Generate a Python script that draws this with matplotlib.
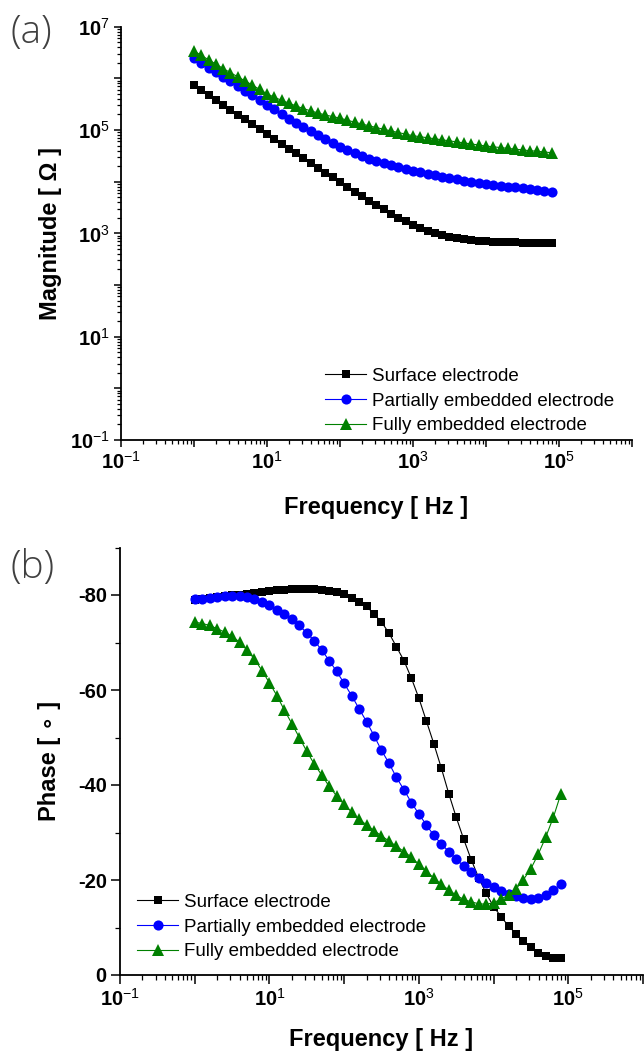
import math
import matplotlib
matplotlib.use("Agg")
import matplotlib.pyplot as plt
from matplotlib.ticker import FixedLocator, LogLocator, MultipleLocator, FuncFormatter, NullFormatter

plt.rcParams['font.family'] = ['Liberation Sans', 'DejaVu Sans']
plt.rcParams['mathtext.fontset'] = 'custom'
plt.rcParams['mathtext.rm'] = 'Liberation Sans'
plt.rcParams['mathtext.bf'] = 'Liberation Sans:bold'
plt.rcParams['axes.unicode_minus'] = False

# frequency sweep, 10 points per decade
freq = [1.0, 1.26, 1.58, 2.0, 2.51, 3.16, 3.98, 5.01, 6.31, 7.94,
        10.0, 12.6, 15.8, 20.0, 25.1, 31.6, 39.8, 50.1, 63.1, 79.4,
        100, 126, 158, 200, 251, 316, 398, 501, 631, 794,
        1000, 1259, 1585, 1995, 2512, 3162, 3981, 5012, 6310, 7943,
        10000, 12589, 15849, 19953, 25119, 31623, 39811, 50119, 63096, 79433]

labels = ['Surface electrode', 'Partially embedded electrode', 'Fully embedded electrode']

# log10 of |Z| in ohm
mag_surface = [5.87, 5.775, 5.68, 5.585, 5.49, 5.395, 5.30, 5.205, 5.11, 5.015,
               4.92, 4.827, 4.734, 4.641, 4.548, 4.455, 4.362, 4.269, 4.176, 4.083,
               3.99, 3.90, 3.81, 3.72, 3.632, 3.546, 3.462, 3.382, 3.305, 3.232,
               3.164, 3.10, 3.045, 2.998, 2.96, 2.93, 2.905, 2.885, 2.87, 2.858,
               2.848, 2.84, 2.834, 2.829, 2.825, 2.822, 2.82, 2.818, 2.816, 2.815]
mag_partial = [6.39, 6.30, 6.21, 6.12, 6.03, 5.94, 5.85, 5.76, 5.67, 5.58,
               5.49, 5.40, 5.31, 5.22, 5.14, 5.06, 4.98, 4.90, 4.82, 4.745,
               4.675, 4.61, 4.55, 4.495, 4.445, 4.40, 4.355, 4.315, 4.28, 4.245,
               4.21, 4.18, 4.15, 4.12, 4.095, 4.07, 4.045, 4.02, 4.0, 3.98,
               3.96, 3.94, 3.925, 3.905, 3.89, 3.87, 3.855, 3.84, 3.825, 3.81]
mag_full = [6.53, 6.445, 6.36, 6.275, 6.19, 6.11, 6.03, 5.95, 5.87, 5.785,
            5.70, 5.635, 5.575, 5.52, 5.465, 5.415, 5.37, 5.33, 5.29, 5.26,
            5.23, 5.19, 5.152, 5.116, 5.081, 5.047, 5.014, 4.982, 4.951, 4.92,
            4.89, 4.87, 4.85, 4.83, 4.81, 4.79, 4.77, 4.75, 4.73, 4.71,
            4.69, 4.675, 4.66, 4.645, 4.63, 4.615, 4.60, 4.59, 4.575, 4.56]

# phase in degrees
ph_surface = [-78.9, -79.1, -79.3, -79.5, -79.7, -79.9, -80.1, -80.3, -80.5, -80.7,
              -80.9, -81.0, -81.1, -81.2, -81.3, -81.3, -81.2, -81.1, -80.9, -80.6,
              -80.2, -79.4, -78.6, -77.6, -76.0, -74.3, -72.0, -69.1, -66.2, -62.5,
              -58.3, -53.5, -48.7, -43.6, -38.2, -33.2, -28.6, -24.3, -20.5, -17.2,
              -14.4, -12.3, -10.3, -8.7, -7.1, -5.8, -4.7, -4.0, -3.6, -3.5]
ph_partial = [-79.1, -79.2, -79.4, -79.5, -79.7, -79.7, -79.7, -79.6, -79.2, -78.5,
              -77.8, -76.8, -76.0, -74.9, -73.6, -72.0, -70.4, -68.4, -66.2, -63.9,
              -61.4, -58.8, -56.1, -53.3, -50.4, -47.3, -44.6, -41.6, -39.0, -36.3,
              -33.9, -31.6, -29.4, -27.6, -26.0, -24.4, -22.9, -21.7, -20.4, -19.3,
              -18.5, -17.7, -17.0, -16.6, -16.2, -16.1, -16.2, -16.8, -17.9, -19.1]
ph_full = [-74.3, -74.0, -73.6, -72.9, -72.2, -71.3, -70.1, -68.4, -66.5, -64.1,
           -61.5, -58.8, -55.8, -52.9, -50.0, -47.1, -44.4, -42.1, -39.7, -37.7,
           -35.9, -34.3, -32.8, -31.6, -30.4, -29.3, -28.2, -27.1, -26.0, -24.8,
           -23.3, -21.9, -20.4, -19.1, -17.9, -16.8, -15.9, -15.4, -15.0, -14.9,
           -15.2, -16.0, -16.8, -18.1, -20.1, -22.4, -25.5, -29.1, -33.2, -38.1]

colors = ['#000000', '#0000ff', '#008000']
markers = ['s', 'o', '^']
msizes = [6.3, 7.3, 8.0]

fig = plt.figure(figsize=(6.44, 10.55), dpi=100)
ax1 = fig.add_axes([121 / 644, 1 - 440 / 1055, 511 / 644, 413.3 / 1055])
ax2 = fig.add_axes([120 / 644, 1 - 975 / 1055, 523 / 644, 427.5 / 1055])

for ys, c, m, ms, lab in zip([mag_surface, mag_partial, mag_full], colors, markers, msizes, labels):
    ax1.plot(freq, [10 ** v for v in ys], color=c, marker=m, markersize=ms,
             markeredgewidth=0, linewidth=0.8, label=lab)

for ys, c, m, ms, lab in zip([ph_surface, ph_partial, ph_full], colors, markers, msizes, labels):
    ax2.plot(freq, ys, color=c, marker=m, markersize=ms,
             markeredgewidth=0, linewidth=0.8, label=lab)


def sci_label(v, pos):
    e = int(round(math.log10(v)))
    if e % 2 == 0:
        return ''
    return r'$\mathbf{10}^{\mathrm{%d}}$' % e


for ax in (ax1, ax2):
    ax.set_xscale('log')
    ax.set_xlim(0.1, 1e6)
    ax.xaxis.set_major_locator(FixedLocator([10.0 ** k for k in range(-1, 7)]))
    ax.xaxis.set_minor_locator(LogLocator(base=10, subs=range(2, 10), numticks=20))
    ax.xaxis.set_major_formatter(FuncFormatter(sci_label))
    ax.xaxis.set_minor_formatter(NullFormatter())
    for side in ('top', 'right'):
        ax.spines[side].set_visible(False)
    for side in ('left', 'bottom'):
        ax.spines[side].set_linewidth(1.3)
    ax.tick_params(which='both', direction='out', labelsize=14.5, pad=3)

ax1.tick_params(which='major', length=5, width=1.1)
ax1.tick_params(which='minor', length=3, width=0.9)
ax2.tick_params(which='major', length=6.5, width=1.1)
ax2.tick_params(which='minor', length=3.3, width=0.9)

ax1.set_yscale('log')
ax1.set_ylim(0.1, 1e7)
ax1.yaxis.set_major_locator(FixedLocator([10.0 ** k for k in range(-1, 8)]))
ax1.yaxis.set_minor_locator(LogLocator(base=10, subs=range(2, 10), numticks=20))
ax1.yaxis.set_major_formatter(FuncFormatter(sci_label))
ax1.yaxis.set_minor_formatter(NullFormatter())

ax2.set_ylim(0, -90)
ax2.yaxis.set_major_locator(FixedLocator([-80, -60, -40, -20, 0]))
ax2.yaxis.set_minor_locator(MultipleLocator(10))
ax2.yaxis.set_major_formatter(FuncFormatter(lambda v, p: '%d' % v))

for ax in (ax1, ax2):
    for t in ax.get_xticklabels() + ax.get_yticklabels():
        t.set_fontweight('bold')

lab_font = dict(fontsize=17, fontweight='bold')
ax1.set_xlabel('Frequency [ Hz ]', **lab_font)
ax1.set_ylabel('Magnitude [ Ω ]', **lab_font)
ax2.set_xlabel('Frequency [ Hz ]', **lab_font)
ax2.set_ylabel('Phase [ ∘ ]', **lab_font)
ax1.xaxis.set_label_coords(0.5, -0.1355)
ax2.xaxis.set_label_coords(0.5, -0.124)
ax1.yaxis.set_label_coords(-0.1155, 0.5)
ax2.yaxis.set_label_coords(-0.113, 0.5)

leg_kw = dict(frameon=False, fontsize=13.5, loc='center left', borderpad=0, borderaxespad=0,
              handlelength=2.2, handletextpad=0.3, labelspacing=0.4)
ax1.legend(bbox_to_anchor=(325 / 644, 1 - 401 / 1055), bbox_transform=fig.transFigure, **leg_kw)
ax2.legend(bbox_to_anchor=(137 / 644, 1 - 927 / 1055), bbox_transform=fig.transFigure, **leg_kw)

panel_font = dict(fontsize=28, color='#404040', va='center', ha='left',
                  family=['Open Sans', 'Liberation Sans'], fontweight='light')
fig.text(10 / 644, 1 - 33 / 1055, '(a)', **panel_font)
fig.text(10 / 644, 1 - 568 / 1055, '(b)', **panel_font)

fig.savefig('out.png', dpi=100)
